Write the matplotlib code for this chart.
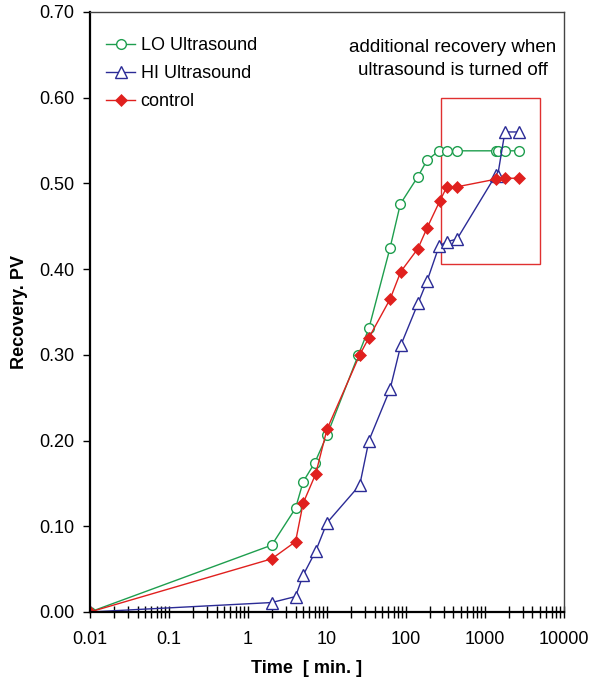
import matplotlib
matplotlib.use("Agg")
import matplotlib.pyplot as plt
from matplotlib.patches import Rectangle
from matplotlib.ticker import FixedLocator, LogLocator, NullFormatter

plt.rcParams["font.family"] = ["Liberation Sans", "DejaVu Sans"]
plt.rcParams["font.size"] = 13

# data
t_lo = [0.01, 2, 4, 5, 7, 10, 25, 34, 63, 85, 142, 185, 262, 330, 443, 1380, 1450, 1790, 2700]
lo = [0.0, 0.078, 0.121, 0.152, 0.174, 0.206, 0.300, 0.331, 0.425, 0.476, 0.508, 0.527,
      0.538, 0.538, 0.538, 0.538, 0.538, 0.538, 0.538]

t_hi = [0.01, 2, 4, 5, 7.2, 10, 26, 34, 63, 86, 142, 185, 263, 330, 443, 1380, 1450, 1790, 2700]
hi = [0.0, 0.011, 0.018, 0.043, 0.071, 0.104, 0.148, 0.200, 0.260, 0.311, 0.360, 0.386,
      0.427, 0.432, 0.435, 0.510, 0.509, 0.560, 0.560]

t_ctl = [0.01, 2, 4, 5, 7.2, 10, 26, 34, 63, 86, 142, 185, 270, 330, 443, 1390, 1800, 2700]
ctl = [0.0, 0.062, 0.082, 0.127, 0.161, 0.213, 0.300, 0.320, 0.365, 0.397, 0.424, 0.448,
       0.480, 0.496, 0.496, 0.505, 0.506, 0.506]

green = "#1e9e4e"
blue = "#2b2b96"
red = "#e0201e"

fig = plt.figure(figsize=(5.98, 6.83), dpi=100)
ax = fig.add_axes([0.1505, 0.104, 0.7925, 0.8785])

ax.plot(t_lo, lo, "-o", color=green, lw=1.0, ms=7, mfc="white", mec=green, mew=1.0,
        label="LO Ultrasound")
ax.plot(t_hi, hi, "-^", color=blue, lw=1.0, ms=8, mfc="white", mec=blue, mew=1.0,
        label="HI Ultrasound")
ax.plot(t_ctl, ctl, "-D", color=red, lw=1.0, ms=6.5, mfc=red, mec=red, mew=0.5,
        label="control")

# highlight box
ax.add_patch(Rectangle((275, 0.406), 5000 - 275, 0.60 - 0.406, fill=False,
                       ec="#e03030", lw=1.0))
ax.text(0.766, 0.922, "additional recovery when\nultrasound is turned off",
        transform=ax.transAxes, ha="center", va="center", fontsize=13.5, linespacing=1.45)

ax.set_xscale("log")
ax.set_xlim(0.01, 10000)
ax.set_ylim(0, 0.70)
ax.set_xticks([0.01, 0.1, 1, 10, 100, 1000, 10000])
ax.set_xticklabels(["0.01", "0.1", "1", "10", "100", "1000", "10000"])
ax.xaxis.set_minor_locator(LogLocator(base=10, subs=range(2, 10)))
ax.xaxis.set_minor_formatter(NullFormatter())
ax.yaxis.set_major_locator(FixedLocator([0, 0.1, 0.2, 0.3, 0.4, 0.5, 0.6, 0.7]))
ax.set_yticklabels(["0.00", "0.10", "0.20", "0.30", "0.40", "0.50", "0.60", "0.70"])

ax.tick_params(axis="x", which="major", direction="inout", length=8, width=1.0, pad=10)
ax.tick_params(axis="x", which="minor", direction="inout", length=8, width=1.0)
ax.tick_params(axis="y", which="major", direction="out", length=5, width=1.0, pad=6)

for s in ["left", "bottom"]:
    ax.spines[s].set_linewidth(1.6)
for s in ["top", "right"]:
    ax.spines[s].set_linewidth(1.0)
    ax.spines[s].set_color("#444444")

ax.set_xlabel("Time  [ min. ]", fontweight="bold", labelpad=10)
ax.xaxis.set_label_coords(0.458, -0.08)
ax.set_ylabel("Recovery. PV", fontweight="bold", labelpad=8)

ax.legend(loc="upper left", frameon=False, bbox_to_anchor=(0.0, 0.985),
          handlelength=1.6, handletextpad=0.3, labelspacing=0.6, borderaxespad=0.5)

fig.savefig("out.png", dpi=100)
